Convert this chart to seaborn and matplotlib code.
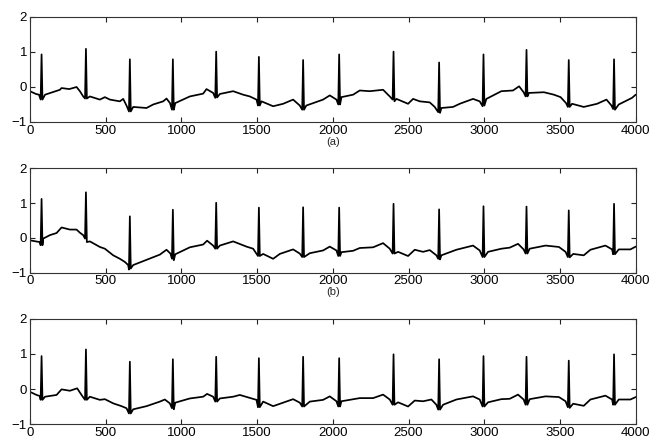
import numpy as np
import pandas as pd
import matplotlib
matplotlib.use("Agg")
import matplotlib.pyplot as plt
import seaborn as sns

# R-peak sample positions (same beats in all three traces)
beat_x = [77, 370, 660, 944, 1230, 1512, 1804, 2042, 2401, 2702, 2995, 3279, 3558, 3857]

# (a) original ECG
peak_a = [0.93, 1.09, 0.79, 0.79, 1.01, 0.86, 0.77, 0.93, 1.01, 0.70, 0.93, 1.06, 0.77, 0.79]
q_a = [-0.36, -0.33, -0.70, -0.65, -0.31, -0.53, -0.65, -0.50, -0.36, -0.72, -0.55, -0.27, -0.57, -0.63]
s_a = [-0.36, -0.33, -0.70, -0.65, -0.30, -0.53, -0.65, -0.50, -0.41, -0.74, -0.53, -0.27, -0.57, -0.65]
base_x_a = [0, 40, 60, 100, 198, 209, 260, 308, 330, 352, 396, 462, 495, 528, 594, 616, 640,
            682, 770, 814, 880, 902, 925, 960, 1056, 1144, 1166, 1210, 1254, 1342, 1408, 1452,
            1496, 1529, 1606, 1672, 1738, 1782, 1825, 1936, 1980, 2024, 2057, 2134, 2178, 2244,
            2332, 2376, 2420, 2497, 2530, 2574, 2640, 2673, 2717, 2794, 2838, 2926, 2970, 3014,
            3113, 3190, 3230, 3260, 3295, 3394, 3460, 3504, 3540, 3580, 3657, 3745, 3807, 3840,
            3888, 3976, 4000]
base_y_a = [-0.12, -0.20, -0.22, -0.22, -0.08, -0.03, -0.06, 0.00, -0.12, -0.27, -0.27, -0.36,
            -0.29, -0.36, -0.41, -0.34, -0.55, -0.57, -0.60, -0.50, -0.41, -0.33, -0.46, -0.46,
            -0.27, -0.19, -0.06, -0.17, -0.20, -0.12, -0.22, -0.27, -0.36, -0.41, -0.55, -0.48,
            -0.36, -0.53, -0.53, -0.36, -0.24, -0.36, -0.29, -0.22, -0.10, -0.12, -0.08, -0.27,
            -0.34, -0.48, -0.34, -0.41, -0.44, -0.57, -0.60, -0.57, -0.48, -0.34, -0.41, -0.34,
            -0.12, -0.10, 0.02, -0.15, -0.17, -0.15, -0.22, -0.29, -0.46, -0.48, -0.57, -0.48,
            -0.36, -0.53, -0.50, -0.31, -0.22]

# (b) ECG with baseline wander
peak_b = [1.12, 1.31, 0.62, 0.81, 1.01, 0.87, 0.88, 0.87, 0.98, 0.82, 0.91, 0.90, 0.79, 0.98]
q_b = [-0.21, -0.02, -0.91, -0.60, -0.31, -0.52, -0.55, -0.52, -0.45, -0.60, -0.55, -0.45, -0.55, -0.47]
s_b = [-0.21, -0.12, -0.88, -0.64, -0.31, -0.52, -0.55, -0.52, -0.45, -0.62, -0.55, -0.45, -0.56, -0.47]
base_x_b = [0, 40, 65, 88, 132, 176, 209, 264, 308, 330, 352, 396, 462, 495, 550, 594, 627, 649,
            682, 770, 858, 902, 928, 960, 1056, 1144, 1170, 1210, 1254, 1342, 1430, 1474, 1540,
            1606, 1650, 1738, 1782, 1848, 1936, 1980, 2024, 2057, 2134, 2178, 2266, 2332, 2376,
            2431, 2497, 2541, 2596, 2640, 2684, 2717, 2816, 2926, 2970, 3025, 3113, 3168, 3223,
            3260, 3300, 3405, 3493, 3537, 3587, 3657, 3701, 3800, 3844, 3888, 3965, 4000]
base_y_b = [-0.07, -0.10, -0.12, -0.02, 0.08, 0.14, 0.30, 0.24, 0.24, 0.15, 0.08, -0.10, -0.26,
            -0.31, -0.50, -0.60, -0.69, -0.78, -0.78, -0.63, -0.48, -0.34, -0.45, -0.47, -0.27,
            -0.19, -0.08, -0.22, -0.22, -0.10, -0.25, -0.31, -0.46, -0.60, -0.46, -0.33, -0.45,
            -0.44, -0.36, -0.25, -0.36, -0.41, -0.37, -0.29, -0.27, -0.15, -0.31, -0.40, -0.52,
            -0.34, -0.40, -0.35, -0.50, -0.50, -0.34, -0.22, -0.36, -0.40, -0.31, -0.28, -0.17,
            -0.33, -0.31, -0.22, -0.26, -0.40, -0.46, -0.50, -0.34, -0.22, -0.33, -0.33, -0.33,
            -0.25]

# (c) filtered ECG
peak_c = [0.94, 1.13, 0.78, 0.85, 0.92, 0.88, 0.92, 0.88, 0.99, 0.85, 0.94, 0.92, 0.81, 0.99]
q_c = [-0.31, -0.31, -0.70, -0.55, -0.36, -0.52, -0.50, -0.50, -0.45, -0.59, -0.50, -0.45, -0.52, -0.45]
s_c = [-0.31, -0.31, -0.70, -0.58, -0.36, -0.52, -0.50, -0.50, -0.45, -0.59, -0.50, -0.45, -0.54, -0.45]
base_x_c = [0, 44, 65, 100, 176, 209, 264, 312, 341, 396, 462, 495, 550, 605, 638, 682, 770, 858,
            891, 924, 960, 1056, 1144, 1170, 1210, 1254, 1342, 1386, 1441, 1496, 1540, 1606, 1672,
            1738, 1782, 1848, 1936, 1980, 2024, 2057, 2178, 2266, 2332, 2376, 2431, 2497, 2541,
            2596, 2651, 2684, 2728, 2816, 2926, 2970, 3025, 3113, 3168, 3223, 3260, 3300, 3405,
            3493, 3537, 3587, 3657, 3701, 3800, 3844, 3888, 3965, 4000]
base_y_c = [-0.08, -0.17, -0.20, -0.22, -0.17, -0.01, -0.05, 0.02, -0.17, -0.22, -0.31, -0.29,
            -0.41, -0.49, -0.55, -0.58, -0.49, -0.36, -0.30, -0.41, -0.39, -0.27, -0.22, -0.14,
            -0.22, -0.27, -0.22, -0.17, -0.24, -0.31, -0.36, -0.49, -0.39, -0.29, -0.39, -0.36,
            -0.31, -0.21, -0.35, -0.35, -0.26, -0.26, -0.16, -0.30, -0.38, -0.50, -0.33, -0.35,
            -0.30, -0.45, -0.45, -0.30, -0.21, -0.30, -0.38, -0.29, -0.28, -0.16, -0.30, -0.29,
            -0.21, -0.23, -0.35, -0.42, -0.48, -0.30, -0.19, -0.30, -0.30, -0.30, -0.23]

# the third caption falls below the visible canvas in the reference
labels = ["(a)", "(b)", ""]


def trace(base_x, base_y, peaks, qs, ss):
    # baseline knots plus Q / R / S vertices of every beat
    xs = list(base_x) + [b - 6 for b in beat_x] + beat_x + [b + 6 for b in beat_x]
    ys = list(base_y) + list(qs) + list(peaks) + list(ss)
    df = pd.DataFrame({"sample": xs, "amp": ys})
    return df.sort_values("sample")


sns.set_style("ticks")
plt.rcParams["font.family"] = ["Liberation Sans", "DejaVu Sans"]
plt.rcParams["axes.unicode_minus"] = True

fig = plt.figure(figsize=(6.5, 4.42), dpi=100)
boxes = [[0.046, 0.724, 0.932, 0.2376],
         [0.046, 0.383, 0.932, 0.2362],
         [0.046, 0.0407, 0.932, 0.2376]]
series = [(base_x_a, base_y_a, peak_a, q_a, s_a),
          (base_x_b, base_y_b, peak_b, q_b, s_b),
          (base_x_c, base_y_c, peak_c, q_c, s_c)]

for box, data, lab in zip(boxes, series, labels):
    ax = fig.add_axes(box)
    df = trace(*data)
    sns.lineplot(data=df, x="sample", y="amp", ax=ax, color="black",
                 linewidth=1.25, estimator=None, sort=False)
    ax.set_xlim(0, 4000)
    ax.set_ylim(-1, 2)
    ax.set_xticks(range(0, 4001, 500))
    ax.set_yticks([-1, 0, 1, 2])
    ax.tick_params(direction="in", length=3.5, width=0.8, top=True, right=True,
                   labelsize=9.5, pad=2, colors="#222222", labelcolor="black")
    for sp in ax.spines.values():
        sp.set_linewidth(0.8)
        sp.set_color("#333333")
    ax.set_ylabel("")
    ax.set_xlabel(lab, fontsize=8, labelpad=0)

fig.savefig("out.png", dpi=100)
